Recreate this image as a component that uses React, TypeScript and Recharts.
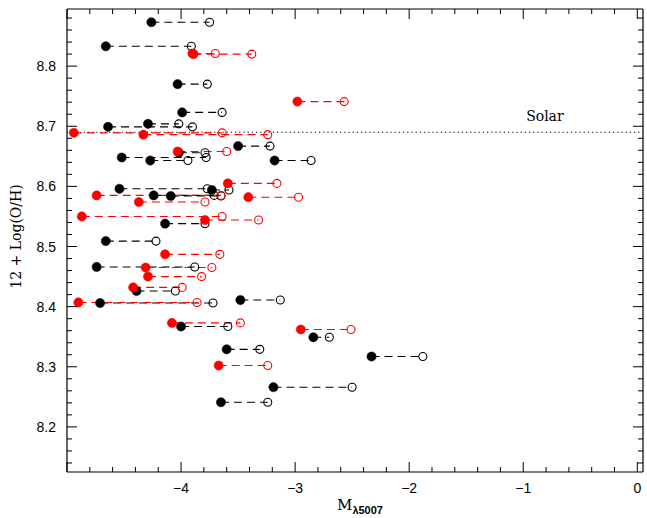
import React from "react";
import {
    ComposedChart,
    Line,
    XAxis,
    YAxis,
    ReferenceLine,
    ReferenceDot,
} from "recharts";

// black pairs: filled (measured) -> open (corrected) magnitude, same abundance
const blackFilled = [-4.26, -4.66, -4.03, -3.99, -4.29, -4.64, -3.50, -4.02, -4.52, -4.27, -3.18, -4.54, -3.73, -4.24, -4.09, -4.14, -4.66, -4.74, -4.39, -4.71, -3.48, -4.00, -2.84, -3.60, -2.33, -3.19, -3.65];
const blackOpen = [-3.75, -3.91, -3.77, -3.64, -4.02, -3.90, -3.22, -3.79, -3.78, -3.94, -2.86, -3.77, -3.58, -3.71, -3.65, -3.79, -4.22, -3.88, -4.05, -3.72, -3.13, -3.59, -2.70, -3.31, -1.88, -2.50, -3.24];
const blackOH = [8.873, 8.833, 8.770, 8.723, 8.704, 8.699, 8.667, 8.656, 8.648, 8.643, 8.643, 8.596, 8.594, 8.585, 8.584, 8.538, 8.509, 8.466, 8.426, 8.406, 8.411, 8.367, 8.349, 8.329, 8.317, 8.266, 8.241];

const redFilled = [-3.90, -3.89, -2.98, -4.94, -4.33, -4.03, -3.59, -4.74, -3.41, -4.37, -4.87, -3.79, -4.14, -4.31, -4.29, -4.42, -4.90, -4.08, -2.95, -3.67];
const redOpen = [-3.70, -3.38, -2.57, -3.64, -3.24, -3.60, -3.16, -3.65, -2.97, -3.79, -3.64, -3.32, -3.66, -3.73, -3.82, -3.99, -3.86, -3.48, -2.51, -3.24];
const redOH = [8.821, 8.820, 8.741, 8.689, 8.686, 8.658, 8.605, 8.585, 8.582, 8.574, 8.550, 8.544, 8.487, 8.465, 8.450, 8.432, 8.407, 8.373, 8.362, 8.302];

const solarOH = 8.69;
const solarLabelX = -0.81;

const xDomain = [-5, 0.05];
const yDomain = [8.125, 8.895];
const xTicks = Array.from({ length: 26 }, (_, i) => Math.round((-5 + i * 0.2) * 100) / 100);
const yTicks = Array.from({ length: 38 }, (_, i) => Math.round((8.14 + i * 0.02) * 1000) / 1000);

const buildPairs = (filled: number[], open: number[], oh: number[]) => {
    const rows: Array<{ x: number; y: number | null; kind: string }> = [];
    filled.forEach((x, i) => {
        rows.push({ x, y: oh[i], kind: "filled" });
        rows.push({ x: open[i], y: oh[i], kind: "open" });
        rows.push({ x: open[i], y: null, kind: "gap" });
    });
    return rows;
};

const blackData = buildPairs(blackFilled, blackOpen, blackOH);
const redData = buildPairs(redFilled, redOpen, redOH);

const sans = "'Liberation Sans', Arial, sans-serif";
const serif = "'DejaVu Serif', serif";

const fmtX = (v: number) => (v === 0 ? "0" : `\u2212${Math.abs(v)}`);

const makeXTick = (side: "bottom" | "top") => (props: any) => {
    const { x, y, payload } = props;
    const v = payload.value;
    const major = Math.abs(v - Math.round(v)) < 1e-6;
    const len = major ? 10 : 5;
    const dir = side === "bottom" ? -1 : 1;
    return (
        <g>
            <line x1={x} y1={y} x2={x} y2={y + dir * len} stroke="#000" strokeWidth={1} />
            {side === "bottom" && major && v > -5 && (
                <text x={x} y={y + 21} textAnchor="middle" fontFamily={sans} fontSize={14} fill="#000">
                    {fmtX(v)}
                </text>
            )}
        </g>
    );
};

const makeYTick = (side: "left" | "right") => (props: any) => {
    const { x, y, payload } = props;
    const v = payload.value;
    const major = Math.abs(v * 10 - Math.round(v * 10)) < 1e-6;
    const len = major ? 10 : 5;
    const dir = side === "left" ? 1 : -1;
    return (
        <g>
            <line x1={x} y1={y} x2={x + dir * len} y2={y} stroke="#000" strokeWidth={1} />
            {side === "left" && major && (
                <text x={x - 11} y={y + 5} textAnchor="end" fontFamily={sans} fontSize={14} fill="#000">
                    {v.toFixed(1)}
                </text>
            )}
        </g>
    );
};

const makeDot = (color: string) => (props: any) => {
    const { cx, cy, payload, index } = props;
    if (cx == null || cy == null || payload.kind === "gap") return <g key={`d${index}`} />;
    if (payload.kind === "filled")
        return <circle key={`d${index}`} cx={cx} cy={cy} r={4.6} fill={color} stroke={color} strokeWidth={0.5} />;
    return <circle key={`d${index}`} cx={cx} cy={cy} r={4} fill="none" stroke={color} strokeWidth={1.1} />;
};

const YLabel = (props: any) => {
    const { viewBox } = props;
    const cx = viewBox.x + 16;
    const cy = viewBox.y + viewBox.height / 2 - 4;
    return (
        <text x={cx} y={cy} transform={`rotate(-90 ${cx} ${cy})`} textAnchor="middle" dominantBaseline="central" fontFamily={serif} fontSize={14} fill="#000">
            12 + Log(O/H)
        </text>
    );
};

const XLabel = (props: any) => {
    const { viewBox } = props;
    const cx = viewBox.x + viewBox.width / 2 + 5;
    return (
        <text x={cx} y={viewBox.y + 38} textAnchor="middle" fontFamily={serif} fontSize={15} fill="#000">
            M
            <tspan dy={4} fontFamily={sans} fontSize={11} fontWeight="bold">λ5007</tspan>
        </text>
    );
};

export default function App() {
    return (
        <div style={{ position: "absolute", left: 0, top: 0, width: 647, height: 518, background: "#fff" }}>
            <ComposedChart width={647} height={518} margin={{ top: 8, right: 3, bottom: 0, left: 0 }}>
                <XAxis
                    xAxisId="main"
                    dataKey="x"
                    type="number"
                    domain={xDomain}
                    ticks={xTicks}
                    interval={0}
                    allowDataOverflow
                    height={46}
                    tickSize={0}
                    tickMargin={0}
                    tickLine={false}
                    axisLine={{ stroke: "#000", strokeWidth: 1.2 }}
                    tick={makeXTick("bottom")}
                    label={<XLabel />}
                />
                <XAxis
                    xAxisId="top"
                    orientation="top"
                    dataKey="x"
                    type="number"
                    domain={xDomain}
                    ticks={xTicks}
                    interval={0}
                    allowDataOverflow
                    height={1}
                    tickSize={0}
                    tickMargin={0}
                    tickLine={false}
                    axisLine={{ stroke: "#000", strokeWidth: 1.2 }}
                    tick={makeXTick("top")}
                />
                <YAxis
                    yAxisId="main"
                    type="number"
                    domain={yDomain}
                    ticks={yTicks}
                    interval={0}
                    allowDataOverflow
                    width={67}
                    tickSize={0}
                    tickMargin={0}
                    tickLine={false}
                    axisLine={{ stroke: "#000", strokeWidth: 1.2 }}
                    tick={makeYTick("left")}
                    label={<YLabel />}
                />
                <YAxis
                    yAxisId="right"
                    orientation="right"
                    type="number"
                    domain={yDomain}
                    ticks={yTicks}
                    interval={0}
                    allowDataOverflow
                    width={1}
                    tickSize={0}
                    tickMargin={0}
                    tickLine={false}
                    axisLine={{ stroke: "#000", strokeWidth: 1.2 }}
                    tick={makeYTick("right")}
                />
                <ReferenceLine
                    xAxisId="main"
                    yAxisId="main"
                    y={solarOH}
                    stroke="#000"
                    strokeWidth={1.2}
                    strokeDasharray="1.2 3"
                />
                <ReferenceDot
                    xAxisId="main"
                    yAxisId="main"
                    x={solarLabelX}
                    y={solarOH}
                    r={0}
                    fill="none"
                    stroke="none"
                    label={({ viewBox }: any) => (
                        <text x={viewBox.x + viewBox.width / 2} y={viewBox.y - 11} textAnchor="middle" fontFamily={serif} fontSize={14} fill="#000">
                            Solar
                        </text>
                    )}
                />
                {/* invisible series so the top and right frame axes get drawn */}
                <Line
                    xAxisId="top"
                    yAxisId="right"
                    data={blackData}
                    dataKey="y"
                    stroke="none"
                    dot={false}
                    activeDot={false}
                    isAnimationActive={false}
                />
                <Line
                    xAxisId="main"
                    yAxisId="main"
                    data={blackData}
                    dataKey="y"
                    type="linear"
                    stroke="#000"
                    strokeWidth={1.1}
                    strokeDasharray="8 5"
                    dot={makeDot("#000")}
                    activeDot={false}
                    isAnimationActive={false}
                    connectNulls={false}
                />
                <Line
                    xAxisId="main"
                    yAxisId="main"
                    data={redData}
                    dataKey="y"
                    type="linear"
                    stroke="#ff0000"
                    strokeWidth={1.1}
                    strokeDasharray="8 5"
                    dot={makeDot("#ff0000")}
                    activeDot={false}
                    isAnimationActive={false}
                    connectNulls={false}
                />
            </ComposedChart>
        </div>
    );
}
